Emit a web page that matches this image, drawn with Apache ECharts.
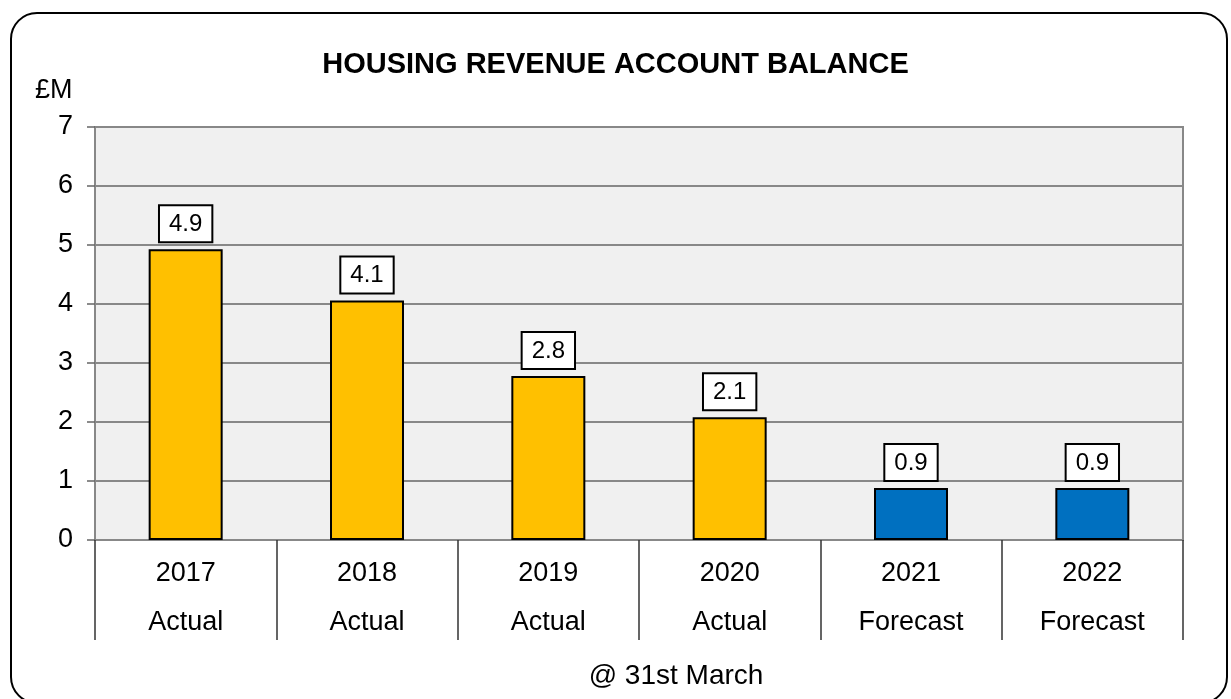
<!DOCTYPE html>
<html>
<head>
<meta charset="utf-8">
<script src="https://cdn.jsdelivr.net/npm/echarts@6/dist/echarts.min.js"></script>
<style>
  html, body { margin: 0; padding: 0; background: #fff; }
  #chart { width: 1231px; height: 699px; }
</style>
</head>
<body>
<div id="chart"></div>
<script>
// data
const years = ['2017', '2018', '2019', '2020', '2021', '2022']
const kinds = ['Actual', 'Actual', 'Actual', 'Actual', 'Forecast', 'Forecast']
const balance = [4.93, 4.06, 2.78, 2.08, 0.88, 0.88]
const yTicks = [0, 1, 2, 3, 4, 5, 6, 7]

const actualColor = '#FFC000'
const forecastColor = '#0070C0'
const font = 'Liberation Sans, Arial, sans-serif'

const myChart = echarts.init(document.getElementById('chart'))

let option = {
  animation: false,
  title: {
    text: 'HOUSING REVENUE ACCOUNT BALANCE',
    left: 'center',
    top: 45,
    textStyle: { fontFamily: font, fontSize: 29, fontWeight: 'bold', color: '#000' }
  },
  grid: {
    left: 95, right: 48, top: 127, bottom: 159,
    show: true,
    backgroundColor: '#f0f0f0',
    borderColor: '#888',
    borderWidth: 2
  },
  xAxis: {
    type: 'category',
    data: years,
    boundaryGap: true,
    axisLine: { show: true, lineStyle: { color: '#888', width: 2 } },
    axisTick: { show: true, interval: 0, length: 100, lineStyle: { color: '#333', width: 1.5 } },
    axisLabel: {
      interval: 0,
      margin: 9,
      formatter: (v, i) => '{y|' + v + '}\n{k|' + kinds[i] + '}',
      rich: {
        y: { fontFamily: font, fontSize: 27, color: '#000', lineHeight: 49 },
        k: { fontFamily: font, fontSize: 27, color: '#000', lineHeight: 49 }
      }
    }
  },
  yAxis: {
    type: 'value',
    min: yTicks[0],
    max: yTicks[yTicks.length - 1],
    interval: 1,
    axisLine: { show: true, lineStyle: { color: '#888', width: 2 } },
    axisTick: { show: true, length: 8, lineStyle: { color: '#666', width: 1.5 } },
    axisLabel: { margin: 22, fontFamily: font, fontSize: 27, color: '#000' },
    splitLine: { show: true, lineStyle: { color: '#888', width: 2 } }
  },
  series: [{
    type: 'bar',
    barWidth: 74,
    data: balance.map((v, i) => ({
      value: v,
      itemStyle: { color: kinds[i] === 'Forecast' ? forecastColor : actualColor }
    })),
    itemStyle: { borderColor: '#000', borderWidth: 2 },
    label: {
      show: true,
      position: 'top',
      distance: 8,
      formatter: p => p.value.toFixed(1),
      fontFamily: font,
      fontSize: 24,
      color: '#000',
      backgroundColor: '#fff',
      borderColor: '#000',
      borderWidth: 2,
      padding: [6, 9, 5, 9]
    }
  }],
  graphic: [
    {
      type: 'rect',
      shape: { x: 11, y: 13, width: 1216, height: 690, r: 26 },
      style: { fill: 'none', stroke: '#000', lineWidth: 2 },
      z: 100
    },
    {
      type: 'text',
      left: 35, top: 77,
      style: { text: '£M', font: '27px ' + font, fill: '#000' }
    },
    {
      type: 'text',
      x: 676, y: 676,
      style: { text: '@ 31st March', font: '28px ' + font, fill: '#000', align: 'center', verticalAlign: 'middle' }
    }
  ]
}

option && myChart.setOption(option)
</script>
</body>
</html>
